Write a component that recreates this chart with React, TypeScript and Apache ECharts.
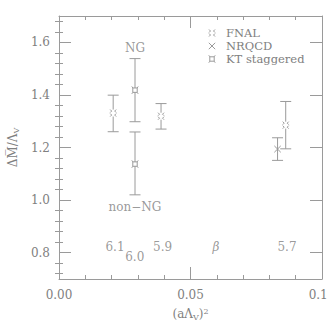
import React, { useEffect, useRef } from "react";
import * as echarts from "echarts";

// [x, y, low, high]
const fnalPoints = [
  [0.0206, 1.331, 1.26, 1.399],
  [0.0388, 1.319, 1.27, 1.367],
  [0.0862, 1.285, 1.195, 1.375],
];
const nrqcdPoints = [[0.0831, 1.194, 1.151, 1.237]];
const ktPoints = [
  [0.0289, 1.418, 1.298, 1.538],
  [0.0289, 1.137, 1.02, 1.259],
];
// annotations: [x, y, text]
const ktLabels: [number, number, string][] = [
  [0.0289, 1.58, "NG"],
  [0.0289, 0.975, "non\u2212NG"],
];
const betaLabels: [number, number, string][] = [
  [0.0213, 0.82, "6.1"],
  [0.0288, 0.782, "6.0"],
  [0.0394, 0.82, "5.9"],
  [0.0867, 0.82, "5.7"],
];
const betaTitle: [number, number, string] = [0.0597, 0.82, "\u03b2"];
const xMajor = [0, 0.05, 0.1];
const yMajor = [0.8, 1.0, 1.2, 1.4, 1.6];

const GRAY = "#9a9a9a";
const TEXT = "#808080";
const FONT = "DejaVu Serif";

function range(a: number, b: number, step: number) {
  const out: number[] = [];
  for (let v = a; v <= b + 1e-9; v += step) out.push(Math.round(v * 1000) / 1000);
  return out;
}
const xMinor = range(0.01, 0.09, 0.01).filter((v) => Math.abs(v - 0.05) > 1e-6);
const yMinor = range(0.72, 1.68, 0.04).filter(
  (v) => !yMajor.some((m) => Math.abs(m - v) < 1e-6)
);

function symbolShapes(kind: string, cx: number, cy: number) {
  const s = 3.2;
  const st = { stroke: GRAY, lineWidth: 1, fill: "none" };
  if (kind === "nrqcd") {
    return [
      { type: "line", shape: { x1: cx - s, y1: cy - s, x2: cx + s, y2: cy + s }, style: st },
      { type: "line", shape: { x1: cx - s, y1: cy + s, x2: cx + s, y2: cy - s }, style: st },
    ];
  }
  if (kind === "kt") {
    const h = 2.2;
    return [
      { type: "rect", shape: { x: cx - h, y: cy - h, width: 2 * h, height: 2 * h }, style: { stroke: GRAY, lineWidth: 1, fill: "#fff" } },
      { type: "line", shape: { x1: cx - h, y1: cy - h, x2: cx - s, y2: cy - s - 0.5 }, style: st },
      { type: "line", shape: { x1: cx + h, y1: cy - h, x2: cx + s, y2: cy - s - 0.5 }, style: st },
      { type: "line", shape: { x1: cx - h, y1: cy + h, x2: cx - s, y2: cy + s + 0.5 }, style: st },
      { type: "line", shape: { x1: cx + h, y1: cy + h, x2: cx + s, y2: cy + s + 0.5 }, style: st },
    ];
  }
  return [
    { type: "rect", shape: { x: cx - 3, y: cy - 3.5, width: 6, height: 7 }, style: { fill: "#fff", stroke: "none" } },
    { type: "polyline", shape: { points: [[cx - 3, cy - 3.5], [cx - 1.5, cy - 2], [cx - 3, cy - 0.5]] }, style: st },
    { type: "polyline", shape: { points: [[cx + 3, cy - 3.5], [cx + 1.5, cy - 2], [cx + 3, cy - 0.5]] }, style: st },
    { type: "polyline", shape: { points: [[cx - 3, cy + 0.5], [cx - 1.5, cy + 2], [cx - 3, cy + 3.5]] }, style: st },
    { type: "polyline", shape: { points: [[cx + 3, cy + 0.5], [cx + 1.5, cy + 2], [cx + 3, cy + 3.5]] }, style: st },
  ];
}

function makeRender(kind: string) {
  return (params: any, api: any) => {
    const x = api.value(0);
    const p = api.coord([x, api.value(1)]);
    const lo = api.coord([x, api.value(2)]);
    const hi = api.coord([x, api.value(3)]);
    const cap = 5.5;
    const st = { stroke: GRAY, lineWidth: 1 };
    return {
      type: "group",
      children: [
        { type: "line", shape: { x1: lo[0], y1: lo[1], x2: hi[0], y2: hi[1] }, style: st },
        { type: "line", shape: { x1: lo[0] - cap, y1: lo[1], x2: lo[0] + cap, y2: lo[1] }, style: st },
        { type: "line", shape: { x1: hi[0] - cap, y1: hi[1], x2: hi[0] + cap, y2: hi[1] }, style: st },
        ...symbolShapes(kind, p[0], p[1]),
      ],
    };
  };
}

function textSeries(data: [number, number, string][], italic = false) {
  return {
    type: "scatter",
    symbol: "circle",
    symbolSize: 1,
    silent: true,
    itemStyle: { color: "rgba(0,0,0,0)" },
    data: data.map((d) => ({ value: [d[0], d[1]], name: d[2] })),
    label: {
      show: true,
      position: "inside",
      formatter: (p: any) => p.name,
      color: TEXT,
      fontFamily: FONT,
      fontSize: 12,
      fontStyle: italic ? "italic" : "normal",
    },
  };
}

export default function App() {
  const ref = useRef<HTMLDivElement>(null);
  useEffect(() => {
    if (!ref.current) return;
    const chart = echarts.init(ref.current, undefined, { renderer: "svg" });
    const baseX = { type: "value", min: 0, max: 0.1, splitLine: { show: false } };
    const baseY = { type: "value", min: 0.7, max: 1.7, splitLine: { show: false } };
    const line = { show: true, onZero: false, lineStyle: { color: GRAY, width: 1 } };
    const tick = (vals: number[], len: number) => ({
      show: true,
      inside: true,
      length: len,
      customValues: vals,
      lineStyle: { color: GRAY, width: 1 },
    });
    const noLabel = { show: false };
    const legendRows = [
      { kind: "fnal", text: "FNAL", y: 33 },
      { kind: "nrqcd", text: "NRQCD", y: 46 },
      { kind: "kt", text: "KT staggered", y: 59 },
    ];
    const graphic: any[] = [];
    legendRows.forEach((r) => {
      graphic.push({ type: "group", children: symbolShapes(r.kind, 212, r.y) });
      graphic.push({
        type: "text",
        x: 226,
        y: r.y,
        style: { text: r.text, fill: TEXT, font: `11.5px "${FONT}"`, textVerticalAlign: "middle" },
      });
    });
    chart.setOption({
      animation: false,
      grid: { left: 59, right: 5, top: 16, bottom: 48, containLabel: false, outerBoundsMode: "none" },
      xAxis: [
        {
          ...baseX,
          position: "bottom",
          axisLine: line,
          axisTick: tick([0.05], 12),
          axisLabel: {
            customValues: xMajor,
            formatter: (v: number) => v.toFixed(2),
            color: TEXT,
            fontFamily: FONT,
            fontSize: 12,
            margin: 10,
            alignMinLabel: "center",
            alignMaxLabel: "center",
          },
          name: "(a\u039b{s|V}){p|2}",
          nameLocation: "middle",
          nameGap: 28,
          nameTextStyle: {
            color: TEXT,
            fontFamily: FONT,
            fontSize: 12,
            rich: {
              s: { fontSize: 8, verticalAlign: "bottom", color: TEXT, fontFamily: FONT, padding: [6, 0, 0, 0] },
              p: { fontSize: 8, verticalAlign: "top", color: TEXT, fontFamily: FONT, padding: [0, 0, 6, 0] },
            },
          },
        },
        { ...baseX, position: "bottom", axisLine: { show: false }, axisTick: tick(xMinor, 4), axisLabel: noLabel },
        { ...baseX, position: "top", axisLine: line, axisTick: tick([0.05], 12), axisLabel: noLabel },
        { ...baseX, position: "top", axisLine: { show: false }, axisTick: tick(xMinor, 4), axisLabel: noLabel },
      ],
      yAxis: [
        {
          ...baseY,
          position: "left",
          axisLine: line,
          axisTick: tick(yMajor, 12),
          axisLabel: {
            customValues: yMajor,
            formatter: (v: number) => v.toFixed(1),
            color: TEXT,
            fontFamily: FONT,
            fontSize: 12,
            margin: 9,
          },
          name: "\u0394M\u0305/\u039b{s|V}",
          nameLocation: "middle",
          nameGap: 33,
          nameRotate: 90,
          nameTextStyle: {
            color: TEXT,
            fontFamily: FONT,
            fontSize: 12,
            rich: {
              s: { fontSize: 8, verticalAlign: "bottom", color: TEXT, fontFamily: FONT, padding: [6, 0, 0, 0] },
            },
          },
        },
        { ...baseY, position: "left", axisLine: { show: false }, axisTick: tick(yMinor, 4), axisLabel: noLabel },
        { ...baseY, position: "right", axisLine: line, axisTick: tick(yMajor, 12), axisLabel: noLabel },
        { ...baseY, position: "right", axisLine: { show: false }, axisTick: tick(yMinor, 4), axisLabel: noLabel },
      ],
      series: [
        { type: "custom", name: "FNAL", renderItem: makeRender("fnal"), data: fnalPoints, clip: false },
        { type: "custom", name: "NRQCD", renderItem: makeRender("nrqcd"), data: nrqcdPoints, clip: false },
        { type: "custom", name: "KT staggered", renderItem: makeRender("kt"), data: ktPoints, clip: false },
        textSeries(ktLabels),
        textSeries(betaLabels),
        textSeries([betaTitle], true),
      ],
      graphic,
    });
    return () => chart.dispose();
  }, []);
  return (
    <div
      ref={ref}
      style={{ position: "fixed", left: 0, top: 0, width: 327, height: 327, background: "#fff" }}
    />
  );
}
